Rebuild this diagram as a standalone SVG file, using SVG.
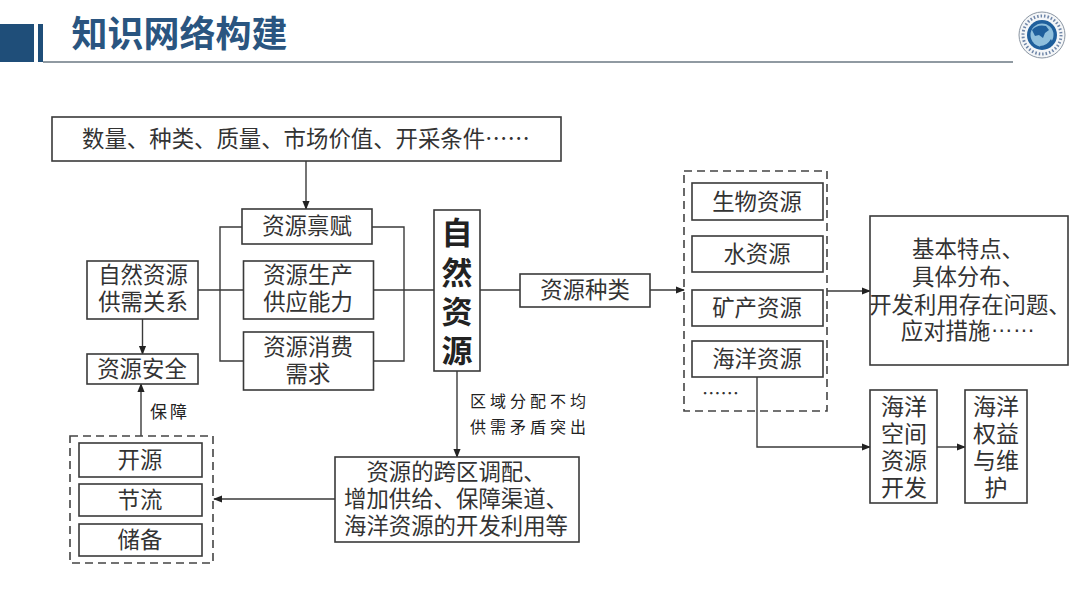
<svg xmlns="http://www.w3.org/2000/svg" width="1080" height="608" viewBox="0 0 1080 608">
<style>
text{font-family:"Liberation Sans","Noto Sans CJK SC",sans-serif;fill:#333;text-anchor:middle;font-size:22.4px}
.cjk{font-family:"Noto Sans CJK SC","Liberation Sans",sans-serif}
.b{fill:#fff;stroke:#3a3a3a;stroke-width:1.6}
.d{fill:none;stroke:#444;stroke-width:1.6;stroke-dasharray:8 5}
.c{fill:none;stroke:#3a3a3a;stroke-width:1.4}
.a{marker-end:url(#arr)}
.v{font-size:23px}
.lab{font-size:16px;letter-spacing:4px;fill:#222}
</style>
<defs><marker id="arr" viewBox="0 0 10 10" refX="9" refY="5" markerWidth="9" markerHeight="9" markerUnits="userSpaceOnUse" orient="auto"><path d="M0 1L10 5L0 9z" fill="#222"/></marker></defs>
<rect width="1080" height="608" fill="#fff"/>
<g id="header">
<rect x="0" y="24" width="34" height="38" fill="#1f4e79"/>
<rect x="38" y="24" width="5" height="38" fill="#1f4e79"/>
<rect x="43" y="61" width="970" height="2" fill="#909aa2"/>
<text x="179.500" y="47" style="font-size:36px;font-weight:700;fill:#2a5580">知识网络构建</text>
</g>
<g id="logo">
<circle cx="1042" cy="35" r="23" fill="#f4f6f8" stroke="#8b96a3" stroke-width="1"/>
<circle cx="1042" cy="35" r="19" fill="none" stroke="#6f86a8" stroke-width="3" stroke-dasharray="1.500 2"/>
<circle cx="1042" cy="35" r="15" fill="#1f5f9c"/>
<circle cx="1042" cy="35" r="11.500" fill="#8fbfdc"/>
<path d="M1032 30q5-6 14-4l3 4l-4 3l-2 5l-4-3l-4 1zM1040 46q7 0 11-7l2 4q-4 6-12 6z" fill="#1f5f9c"/>
</g>
<g id="connectors">
<path class="c a" d="M306 161V209"/>
<path class="c" d="M242 227H220V361H243M372 227H404V361H373M198 290H243M373 290H434"/>
<path class="c a" d="M142.500 319V354"/>
<path class="c a" d="M141 436V384"/>
<path class="c a" d="M457 371V457"/>
<path class="c a" d="M335 499H214"/>
<path class="c" d="M480 290H520"/>
<path class="c a" d="M650 290H684"/>
<path class="c a" d="M827 291H870"/>
<path class="c a" d="M757 377V447H870"/>
<path class="c a" d="M937 447H965"/>
</g>
<g id="n-top"><rect class="b" x="52" y="117" width="509" height="44"/><text class="cjk" x="306" y="147">数量、种类、质量、市场价值、开采条件……</text></g>
<g id="n-bf"><rect class="b" x="242" y="209" width="130" height="35"/><text x="307" y="234">资源禀赋</text></g>
<g id="n-sc"><rect class="b" x="243.500" y="261" width="130" height="58"/><text x="308" y="283">资源生产<tspan x="308" dy="27">供应能力</tspan></text></g>
<g id="n-xf"><rect class="b" x="243.500" y="332" width="130" height="58"/><text x="308" y="355">资源消费<tspan x="308" dy="27">需求</tspan></text></g>
<g id="n-gx"><rect class="b" x="87" y="261" width="111" height="58"/><text x="143" y="283">自然资源<tspan x="143" dy="27">供需关系</tspan></text></g>
<g id="n-aq"><rect class="b" x="87" y="354" width="111" height="30"/><text x="142" y="377">资源安全</text></g>
<g id="n-main"><rect class="b" x="434" y="210" width="46" height="161"/>
<text x="457" y="244" style="font-size:31px;font-weight:700;fill:#222">自<tspan x="457" dy="40">然</tspan><tspan x="457" dy="39">资</tspan><tspan x="457" dy="39">源</tspan></text></g>
<g id="n-zl"><rect class="b" x="520" y="274" width="130" height="33"/><text x="585" y="298">资源种类</text></g>
<g id="n-group1"><rect class="d" x="684" y="171" width="143" height="240"/>
<text class="cjk" x="720.500" y="400" style="font-size:18.500px">……</text></g>
<g id="n-sw"><rect class="b" x="692" y="183" width="131" height="37"/><text x="757" y="210">生物资源</text></g>
<g id="n-water"><rect class="b" x="692" y="236" width="131" height="36"/><text x="757" y="262">水资源</text></g>
<g id="n-kc"><rect class="b" x="692" y="290" width="131" height="36"/><text x="757" y="316">矿产资源</text></g>
<g id="n-hy"><rect class="b" x="692" y="341" width="131" height="36"/><text x="757" y="367">海洋资源</text></g>
<g id="n-info"><rect class="b" x="870" y="216" width="198" height="149"/>
<text x="968" y="257">基本特点、<tspan x="968" dy="28">具体分布、</tspan><tspan x="970" dy="28">开发利用存在问题、</tspan><tspan x="968" dy="26">应对措施<tspan dy="-7">……</tspan></tspan></text></g>
<g id="n-kf"><rect class="b" x="870" y="390" width="67" height="113"/>
<text class="v" x="904" y="415">海洋<tspan x="904" dy="26.500">空间</tspan><tspan x="904" dy="27">资源</tspan><tspan x="904" dy="27">开发</tspan></text></g>
<g id="n-qy"><rect class="b" x="965" y="390" width="62" height="113"/>
<text class="v" x="996" y="415">海洋<tspan x="996" dy="26.500">权益</tspan><tspan x="996" dy="27">与维</tspan><tspan x="996" dy="27">护</tspan></text></g>
<g id="n-dp"><rect class="b" x="335" y="457" width="244" height="85"/>
<text x="456" y="480">资源的跨区调配、<tspan x="456" dy="27">增加供给、保障渠道、</tspan><tspan x="456" dy="27">海洋资源的开发利用等</tspan></text></g>
<g id="n-group2"><rect class="d" x="70" y="436" width="143" height="127"/></g>
<g id="n-ky"><rect class="b" x="79" y="443" width="123" height="34"/><text x="140" y="468">开源</text></g>
<g id="n-jl"><rect class="b" x="79" y="484" width="123" height="32"/><text x="140" y="508">节流</text></g>
<g id="n-cb"><rect class="b" x="79" y="524" width="123" height="32"/><text x="140" y="548">储备</text></g>
<g id="labels">
<text x="170" y="418" style="font-size:17px;letter-spacing:3px;fill:#222">保障</text>
<text class="lab" x="530" y="407">区域分配不均<tspan x="530" dy="26">供需矛盾突出</tspan></text>
</g>
</svg>
